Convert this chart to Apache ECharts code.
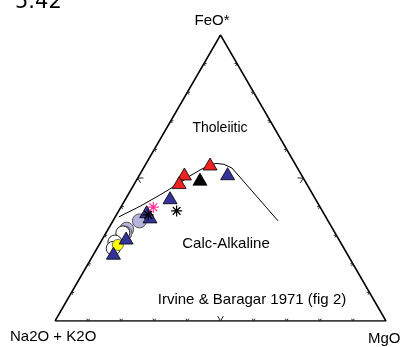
<!DOCTYPE html>
<html>
<head>
<meta charset="utf-8">
<script src="https://cdn.jsdelivr.net/npm/echarts@6/dist/echarts.min.js"></script>
<style>
  html, body { margin: 0; padding: 0; background: #fff; }
  #chart { width: 403px; height: 347px; }
</style>
</head>
<body>
<div id="chart"></div>
<script>
// AFM ternary diagram: A = Na2O + K2O, F = FeO*, M = MgO (all in %).
// Each sample is [A, F, M].

// Irvine & Baragar (1971) tholeiitic / calc-alkaline boundary
const boundaryAFM = [
  [62.5, 36.4, 1.1], [54.3, 40.1, 5.6], [46.2, 44.1, 9.7], [38.9, 47.9, 13.2],
  [33.9, 50.7, 15.4], [29.8, 52.8, 17.4], [26.7, 54.2, 19.1], [23.8, 55.1, 21.1],
  [21.6, 54.8, 23.6], [19.8, 53.5, 26.7], [15.1, 35.0, 49.9]
];

const blueTriangles = [
  [22.1, 51.5, 26.4], [43.7, 43.1, 13.2], [53.2, 38.2, 8.6], [53.1, 36.4, 10.5],
  [64.0, 29.0, 7.0], [70.5, 23.7, 5.8]
];
const redTriangles = [[25.7, 54.9, 19.4], [35.2, 51.4, 13.4], [38.3, 48.4, 13.3]];
const blackTriangles = [[31.4, 49.6, 19.0]];
const blackAsterisks = [[44.0, 38.5, 17.5], [53.3, 37.1, 9.6]];
const pinkAsterisks = [[50.4, 39.8, 9.8]];
const lavenderCircles = [[57.0, 35.0, 8.0], [62.3, 32.1, 5.6], [63.5, 30.7, 5.8]];
const whiteCircles = [[64.1, 30.8, 5.1], [68.1, 27.6, 4.3], [69.7, 25.4, 4.9]];
const yellowCircles = [[67.7, 26.6, 5.7]];

// corner and field labels
const cornerLabels = ['FeO*', 'Na2O + K2O', 'MgO'];
const fieldLabels = ['Tholeiitic', 'Calc-Alkaline', 'Irvine & Baragar 1971 (fig 2)'];
const plotNumber = '5.42';

const H = Math.sqrt(3) / 2;
function toXY(p) {
  const s = p[0] + p[1] + p[2];
  const f = p[1] / s * 100, m = p[2] / s * 100;
  return [m + f / 2, f * H];
}

// triangle frame
const frame = [[100, 0, 0], [0, 100, 0], [0, 0, 100], [100, 0, 0]].map(toXY);

// tick marks every 10 %, larger at 50 %
const tickData = [];
const dirs = {
  base: [[-0.5, H], [0.5, H]],      // up-left, up-right
  left: [[1, 0], [0.5, -H]],        // right, down-right
  right: [[-1, 0], [-0.5, -H]]      // left, down-left
};
for (let k = 10; k <= 90; k += 10) {
  const len = k === 50 ? 1.7 : 0.8;
  const pts = {
    base: toXY([100 - k, 0, k]),
    left: toXY([100 - k, k, 0]),
    right: toXY([0, k, 100 - k])
  };
  for (const side of ['base', 'left', 'right']) {
    const p = pts[side];
    for (const d of dirs[side]) {
      tickData.push([p[0], p[1]]);
      tickData.push([p[0] + d[0] * len, p[1] + d[1] * len]);
      tickData.push(null);
    }
  }
}

const asteriskPath = 'path://M0,5L10,5M5,0L5,10M1.5,1.5L8.5,8.5M8.5,1.5L1.5,8.5';

function pointSeries(data, symbol, size, fill, edge, edgeWidth) {
  return {
    type: 'scatter',
    data: data.map(toXY),
    symbol: symbol,
    symbolSize: size,
    itemStyle: { color: fill, borderColor: edge, borderWidth: edgeWidth, opacity: 1 },
    silent: true,
    z: 5
  };
}

const chart = echarts.init(document.getElementById('chart'), null, { renderer: 'canvas' });
chart.setOption({
  animation: false,
  backgroundColor: '#fff',
  grid: { left: 55, top: 35, width: 331, height: 286, containLabel: false },
  xAxis: { type: 'value', min: 0, max: 100, show: false },
  yAxis: { type: 'value', min: 0, max: 100 * H, show: false },
  series: [
    {
      type: 'line', data: frame, symbol: 'none', silent: true,
      lineStyle: { color: '#000', width: 1.5 }, z: 3
    },
    {
      type: 'line', data: tickData, symbol: 'none', silent: true, connectNulls: false,
      lineStyle: { color: '#222', width: 1 }, z: 3
    },
    {
      type: 'line', data: boundaryAFM.map(toXY), symbol: 'none', silent: true,
      lineStyle: { color: '#000', width: 1 }, z: 3
    },
    pointSeries(lavenderCircles, 'circle', 14, '#b4b4dc', '#555', 1),
    pointSeries(whiteCircles, 'circle', 14, '#ffffff', '#222', 1),
    pointSeries(yellowCircles, 'circle', 11, '#ffff00', '#555', 0.8),
    pointSeries(blueTriangles, 'triangle', [14, 12], '#333399', '#000', 0.8),
    pointSeries(redTriangles, 'triangle', [14, 12], '#ee2222', '#000', 0.8),
    pointSeries(blackTriangles, 'triangle', [14, 12], '#000000', '#000', 0.8),
    pointSeries(blackAsterisks, asteriskPath, 11, 'transparent', '#000', 1.2),
    pointSeries(pinkAsterisks, asteriskPath, 11, 'transparent', '#ff3399', 1.2)
  ],
  graphic: [
    { type: 'text', left: 15, top: -8, style: { text: plotNumber, font: '21px "DejaVu Sans"', fill: '#000' } },
    { type: 'text', x: 212, y: 21, style: { text: cornerLabels[0], font: '15px "Liberation Sans"', fill: '#000', align: 'center', verticalAlign: 'middle' } },
    { type: 'text', x: 10, y: 337, style: { text: cornerLabels[1], font: '15px "Liberation Sans"', fill: '#000', align: 'left', verticalAlign: 'middle' } },
    { type: 'text', x: 368, y: 339, style: { text: cornerLabels[2], font: '15px "Liberation Sans"', fill: '#000', align: 'left', verticalAlign: 'middle' } },
    { type: 'text', x: 220, y: 128, style: { text: fieldLabels[0], font: '14px "Liberation Sans"', fill: '#000', align: 'center', verticalAlign: 'middle' } },
    { type: 'text', x: 226, y: 244, style: { text: fieldLabels[1], font: '15px "Liberation Sans"', fill: '#000', align: 'center', verticalAlign: 'middle' } },
    { type: 'text', x: 252, y: 300, style: { text: fieldLabels[2], font: '15px "Liberation Sans"', fill: '#000', align: 'center', verticalAlign: 'middle' } }
  ]
});
</script>
</body>
</html>
